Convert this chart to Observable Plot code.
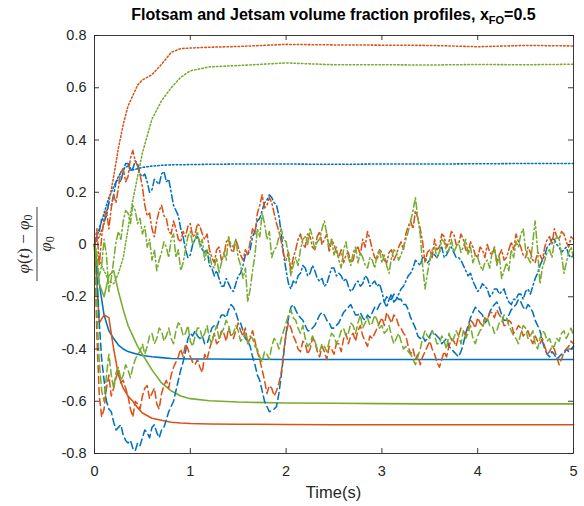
<!DOCTYPE html>
<html>
<head>
<meta charset="utf-8">
<script src="https://cdn.jsdelivr.net/npm/d3@7"></script>
<script src="https://cdn.jsdelivr.net/npm/@observablehq/plot@0.6"></script>
<style>
  html, body { margin: 0; padding: 0; background: #fff; }
  #chart { width: 584px; height: 506px; }
</style>
</head>
<body>
<div id="chart"></div>
<script>
// ---- Text ----
const titleMain = "Flotsam and Jetsam volume fraction profiles, x";
const titleSub = "FO";
const titleTail = "=0.5";
const xLabel = "Time(s)";

// ---- Axis ticks ----
const xTicks = [0, 1, 2, 3, 4, 5];
const yTicks = [-0.8, -0.6, -0.4, -0.2, 0, 0.2, 0.4, 0.6, 0.8];

// ---- Sample times ----
// smooth profiles (solid and dotted) are sampled coarsely
const tSmooth = [0, 0.05, 0.1, 0.15, 0.2, 0.25, 0.3, 0.35, 0.4, 0.45, 0.5, 0.6, 0.7, 0.8, 0.9, 1.0, 1.2, 1.5, 2.0, 2.5, 3.0, 3.5, 4.0, 4.5, 5.0];
// fluctuating profiles (dashed and dash-dot) every 0.025 s
const tNoisy = d3.range(201).map(i => +(i * 0.025).toFixed(3));

// ---- Solid profiles ----
const blueSolid   = [0, -0.15, -0.27, -0.33, -0.36, -0.385, -0.40, -0.41, -0.415, -0.42, -0.425, -0.43, -0.433, -0.436, -0.437, -0.438, -0.438, -0.439, -0.44, -0.44, -0.44, -0.44, -0.44, -0.44, -0.44];
const orangeSolid = [0, -0.30, -0.27, -0.28, -0.40, -0.50, -0.55, -0.58, -0.60, -0.625, -0.645, -0.665, -0.673, -0.68, -0.683, -0.685, -0.687, -0.688, -0.689, -0.69, -0.69, -0.69, -0.69, -0.69, -0.69];
const greenSolid  = [0, -0.15, -0.20, -0.12, -0.10, -0.18, -0.25, -0.31, -0.35, -0.39, -0.42, -0.48, -0.53, -0.56, -0.58, -0.59, -0.598, -0.603, -0.607, -0.608, -0.609, -0.61, -0.61, -0.61, -0.61];

// ---- Dotted profiles ----
const blueDotted   = [0, 0.06, 0.12, 0.18, 0.22, 0.26, 0.29, 0.30, 0.285, 0.29, 0.295, 0.30, 0.303, 0.305, 0.305, 0.306, 0.307, 0.308, 0.308, 0.307, 0.308, 0.308, 0.309, 0.31, 0.31];
const orangeDotted = [0, 0.03, 0.08, 0.16, 0.26, 0.37, 0.46, 0.53, 0.57, 0.61, 0.63, 0.65, 0.69, 0.735, 0.75, 0.752, 0.755, 0.758, 0.766, 0.764, 0.763, 0.762, 0.757, 0.762, 0.76];
const greenDotted  = [0, -0.06, -0.10, -0.14, -0.15, -0.11, -0.05, 0.06, 0.17, 0.26, 0.35, 0.48, 0.55, 0.60, 0.64, 0.665, 0.68, 0.685, 0.695, 0.688, 0.688, 0.687, 0.689, 0.688, 0.69];

// ---- Dashed profiles (lower band), one row per 0.5 s ----
const blueDashed = [
  0, -0.12, -0.30, -0.44, -0.52, -0.60, -0.63, -0.64, -0.68, -0.71, -0.70, -0.69, -0.73, -0.75, -0.76, -0.75, -0.78, -0.79, -0.76, -0.77,
  -0.74, -0.71, -0.72, -0.74, -0.70, -0.69, -0.72, -0.74, -0.71, -0.70, -0.67, -0.64, -0.62, -0.60, -0.56, -0.52, -0.48, -0.45, -0.41, -0.36,
  -0.34, -0.35, -0.33, -0.35, -0.36, -0.35, -0.38, -0.38, -0.35, -0.32, -0.31, -0.32, -0.29, -0.27, -0.27, -0.28, -0.25, -0.23, -0.24, -0.26,
  -0.29, -0.30, -0.33, -0.36, -0.37, -0.39, -0.43, -0.46, -0.50, -0.52, -0.56, -0.60, -0.62, -0.64, -0.635, -0.63, -0.62, -0.57, -0.50, -0.42,
  -0.34, -0.28, -0.24, -0.23, -0.25, -0.27, -0.28, -0.29, -0.31, -0.33, -0.33, -0.32, -0.31, -0.29, -0.27, -0.26, -0.27, -0.29, -0.30, -0.32,
  -0.32, -0.31, -0.30, -0.28, -0.26, -0.25, -0.24, -0.23, -0.25, -0.27, -0.27, -0.26, -0.28, -0.29, -0.27, -0.28, -0.26, -0.24, -0.25, -0.23,
  -0.22, -0.22, -0.20, -0.21, -0.21, -0.19, -0.20, -0.21, -0.21, -0.23, -0.23, -0.25, -0.28, -0.30, -0.32, -0.35, -0.36, -0.35, -0.37, -0.36,
  -0.35, -0.33, -0.34, -0.35, -0.36, -0.38, -0.37, -0.36, -0.39, -0.40, -0.41, -0.42, -0.43, -0.41, -0.38, -0.34, -0.31, -0.28, -0.26, -0.24,
  -0.25, -0.26, -0.27, -0.30, -0.29, -0.26, -0.24, -0.23, -0.22, -0.24, -0.27, -0.29, -0.29, -0.27, -0.25, -0.24, -0.23, -0.21, -0.22, -0.24,
  -0.25, -0.23, -0.24, -0.26, -0.29, -0.31, -0.33, -0.37, -0.40, -0.42, -0.43, -0.41, -0.42, -0.44, -0.43, -0.42, -0.42, -0.40, -0.41, -0.40,
  -0.39
];
const orangeDashed = [
  0, -0.35, -0.58, -0.66, -0.63, -0.55, -0.50, -0.58, -0.55, -0.51, -0.48, -0.53, -0.52, -0.55, -0.58, -0.63, -0.66, -0.60, -0.61, -0.63,
  -0.58, -0.55, -0.54, -0.59, -0.57, -0.55, -0.61, -0.63, -0.57, -0.54, -0.52, -0.55, -0.50, -0.47, -0.45, -0.43, -0.40, -0.43, -0.38, -0.40,
  -0.43, -0.45, -0.46, -0.44, -0.47, -0.49, -0.42, -0.44, -0.40, -0.37, -0.34, -0.38, -0.37, -0.33, -0.34, -0.37, -0.32, -0.35, -0.36, -0.33,
  -0.30, -0.33, -0.35, -0.32, -0.38, -0.36, -0.33, -0.37, -0.41, -0.44, -0.48, -0.52, -0.57, -0.54, -0.55, -0.58, -0.56, -0.53, -0.49, -0.41,
  -0.34, -0.30, -0.32, -0.35, -0.37, -0.40, -0.41, -0.37, -0.38, -0.42, -0.40, -0.36, -0.37, -0.41, -0.43, -0.39, -0.41, -0.44, -0.39, -0.40,
  -0.42, -0.38, -0.38, -0.41, -0.36, -0.34, -0.38, -0.35, -0.34, -0.37, -0.33, -0.31, -0.35, -0.37, -0.39, -0.35, -0.36, -0.34, -0.32, -0.30,
  -0.28, -0.31, -0.26, -0.28, -0.30, -0.27, -0.28, -0.31, -0.32, -0.34, -0.35, -0.39, -0.42, -0.40, -0.44, -0.42, -0.46, -0.43, -0.41, -0.39,
  -0.37, -0.40, -0.42, -0.45, -0.47, -0.44, -0.41, -0.43, -0.39, -0.36, -0.37, -0.39, -0.35, -0.32, -0.33, -0.35, -0.32, -0.29, -0.30, -0.32,
  -0.28, -0.30, -0.31, -0.28, -0.29, -0.26, -0.26, -0.28, -0.25, -0.27, -0.28, -0.31, -0.31, -0.29, -0.30, -0.34, -0.33, -0.31, -0.32, -0.35,
  -0.34, -0.33, -0.36, -0.38, -0.35, -0.37, -0.38, -0.36, -0.39, -0.42, -0.41, -0.39, -0.40, -0.43, -0.46, -0.44, -0.41, -0.40, -0.39, -0.37,
  -0.38
];
const greenDashed = [
  0, -0.25, -0.45, -0.56, -0.60, -0.50, -0.42, -0.50, -0.55, -0.49, -0.47, -0.52, -0.50, -0.46, -0.48, -0.51, -0.47, -0.44, -0.42, -0.41,
  -0.38, -0.42, -0.39, -0.35, -0.34, -0.38, -0.36, -0.32, -0.33, -0.37, -0.35, -0.32, -0.36, -0.38, -0.33, -0.30, -0.31, -0.35, -0.34, -0.31,
  -0.37, -0.39, -0.35, -0.32, -0.32, -0.36, -0.34, -0.31, -0.36, -0.38, -0.34, -0.31, -0.36, -0.34, -0.32, -0.29, -0.31, -0.35, -0.34, -0.31,
  -0.33, -0.37, -0.36, -0.34, -0.38, -0.35, -0.36, -0.39, -0.40, -0.43, -0.45, -0.41, -0.42, -0.44, -0.39, -0.36, -0.37, -0.40, -0.36, -0.33,
  -0.30, -0.27, -0.25, -0.28, -0.29, -0.32, -0.34, -0.31, -0.36, -0.39, -0.38, -0.35, -0.37, -0.40, -0.41, -0.38, -0.39, -0.41, -0.37, -0.34,
  -0.35, -0.38, -0.36, -0.33, -0.32, -0.35, -0.34, -0.30, -0.31, -0.34, -0.30, -0.27, -0.32, -0.30, -0.28, -0.31, -0.30, -0.27, -0.29, -0.32,
  -0.31, -0.34, -0.33, -0.31, -0.35, -0.38, -0.36, -0.34, -0.37, -0.40, -0.39, -0.41, -0.42, -0.44, -0.46, -0.43, -0.40, -0.36, -0.33, -0.35,
  -0.36, -0.33, -0.35, -0.38, -0.38, -0.35, -0.37, -0.40, -0.34, -0.37, -0.36, -0.33, -0.35, -0.38, -0.33, -0.36, -0.34, -0.31, -0.36, -0.38,
  -0.35, -0.33, -0.32, -0.29, -0.28, -0.31, -0.31, -0.34, -0.33, -0.30, -0.30, -0.27, -0.28, -0.31, -0.33, -0.35, -0.36, -0.38, -0.34, -0.31,
  -0.32, -0.36, -0.35, -0.33, -0.38, -0.40, -0.36, -0.33, -0.34, -0.37, -0.36, -0.39, -0.39, -0.36, -0.37, -0.34, -0.33, -0.36, -0.34, -0.32,
  -0.35
];

// ---- Dash-dot profiles (upper band), one row per 0.5 s ----
const blueDashDot = [
  0, 0.04, 0.05, 0.10, 0.09, 0.11, 0.16, 0.15, 0.19, 0.24, 0.25, 0.24, 0.28, 0.31, 0.31, 0.28, 0.29, 0.32, 0.31, 0.27,
  0.26, 0.27, 0.24, 0.20, 0.21, 0.25, 0.24, 0.23, 0.27, 0.28, 0.24, 0.25, 0.20, 0.15, 0.13, 0.11, 0.06, 0.03, -0.02, -0.05,
  -0.04, 0.00, 0.02, 0.03, 0.01, -0.02, -0.03, -0.02, -0.08, -0.09, -0.12, -0.10, -0.13, -0.16, -0.16, -0.13, -0.15, -0.17, -0.18, -0.15,
  -0.12, -0.11, -0.08, -0.04, -0.04, -0.02, 0.03, 0.05, 0.09, 0.10, 0.13, 0.16, 0.17, 0.19, 0.18, 0.16, 0.15, 0.11, 0.04, -0.04,
  -0.10, -0.15, -0.17, -0.14, -0.15, -0.12, -0.11, -0.08, -0.09, -0.12, -0.11, -0.08, -0.10, -0.13, -0.14, -0.13, -0.16, -0.15, -0.12, -0.09,
  -0.09, -0.12, -0.11, -0.12, -0.14, -0.13, -0.16, -0.18, -0.17, -0.15, -0.14, -0.16, -0.15, -0.12, -0.13, -0.16, -0.15, -0.14, -0.16, -0.15,
  -0.18, -0.22, -0.24, -0.21, -0.19, -0.22, -0.21, -0.19, -0.17, -0.16, -0.14, -0.12, -0.11, -0.09, -0.06, -0.07, -0.08, -0.05, -0.05, -0.07,
  -0.06, -0.03, -0.04, -0.05, -0.03, -0.01, -0.05, -0.04, -0.02, -0.01, -0.03, -0.05, -0.05, -0.06, -0.08, -0.10, -0.12, -0.11, -0.14, -0.16,
  -0.18, -0.17, -0.15, -0.16, -0.17, -0.20, -0.19, -0.17, -0.17, -0.19, -0.18, -0.17, -0.20, -0.22, -0.23, -0.21, -0.21, -0.19, -0.19, -0.21,
  -0.18, -0.17, -0.19, -0.16, -0.13, -0.11, -0.08, -0.06, -0.04, -0.01, 0.00, 0.02, 0.02, 0.00, -0.01, -0.03, -0.02, -0.01, -0.04, -0.05,
  -0.04
];
const orangeDashDot = [
  0, 0.06, -0.08, 0.03, 0.10, 0.13, 0.06, 0.14, 0.19, 0.16, 0.22, 0.28, 0.29, 0.24, 0.26, 0.33, 0.36, 0.32, 0.30, 0.27,
  0.22, 0.15, 0.11, 0.12, 0.06, 0.03, 0.09, 0.13, 0.15, 0.11, 0.10, 0.05, 0.04, 0.09, 0.06, 0.02, 0.01, 0.05, 0.03, 0.07,
  0.08, 0.03, 0.04, 0.08, 0.07, 0.04, 0.02, 0.04, -0.02, -0.05, -0.07, -0.02, -0.01, -0.06, -0.05, 0.01, 0.02, -0.02, -0.03, 0.02,
  -0.01, -0.04, -0.06, -0.02, -0.04, 0.01, 0.06, 0.04, 0.12, 0.15, 0.19, 0.14, 0.15, 0.18, 0.16, 0.12, 0.08, 0.05, 0.01, -0.04,
  -0.06, -0.03, -0.10, -0.05, -0.02, 0.02, 0.04, 0.00, -0.01, 0.04, 0.03, -0.01, -0.02, 0.03, 0.05, 0.00, 0.02, 0.04, -0.03, 0.02,
  0.00, -0.03, -0.05, -0.02, -0.07, -0.04, -0.03, -0.07, -0.06, -0.02, -0.01, -0.04, 0.02, -0.01, 0.05, 0.02, -0.02, -0.05, -0.06, -0.02,
  -0.03, -0.06, -0.07, -0.03, -0.02, -0.06, -0.04, -0.01, 0.01, -0.02, 0.04, 0.07, 0.09, 0.06, 0.13, 0.10, 0.06, 0.01, -0.07, -0.03,
  -0.02, -0.05, 0.02, -0.02, -0.01, 0.04, 0.03, -0.01, 0.01, 0.05, 0.04, 0.00, 0.00, 0.04, 0.02, -0.02, -0.03, 0.01, -0.01, -0.04,
  -0.05, -0.01, -0.02, -0.05, 0.00, -0.03, -0.04, -0.01, -0.07, -0.04, -0.02, -0.06, -0.05, -0.02, 0.01, -0.02, 0.04, 0.01, -0.01, -0.04,
  -0.05, -0.01, -0.03, -0.06, -0.07, -0.03, -0.04, -0.06, -0.01, 0.02, 0.03, 0.00, 0.06, 0.03, 0.02, 0.05, 0.04, 0.01, -0.01, 0.03,
  0.02
];
const greenDashDot = [
  0, -0.05, -0.12, -0.08, 0.02, -0.04, -0.18, -0.13, -0.06, 0.01, 0.05, 0.02, 0.09, 0.13, 0.12, 0.08, 0.15, 0.13, 0.08, 0.10,
  0.04, 0.07, -0.01, 0.02, -0.06, -0.02, -0.10, -0.06, -0.03, 0.01, -0.01, -0.05, 0.02, 0.04, -0.05, -0.02, -0.10, -0.07, -0.02, 0.03,
  0.05, 0.00, 0.02, 0.05, -0.01, 0.02, -0.06, -0.02, -0.04, -0.08, -0.09, -0.05, -0.11, -0.07, -0.03, -0.06, 0.03, 0.00, -0.01, 0.02,
  -0.05, -0.08, -0.13, -0.09, -0.22, -0.17, -0.10, -0.04, 0.06, 0.03, 0.12, 0.08, 0.02, 0.05, -0.05, -0.02, -0.01, 0.03, 0.06, 0.02,
  0.01, -0.04, -0.12, -0.08, -0.05, -0.08, -0.02, 0.02, 0.03, 0.00, 0.06, 0.03, -0.02, 0.01, 0.02, 0.06, 0.09, 0.04, -0.01, 0.02,
  -0.04, -0.01, -0.06, -0.09, -0.02, 0.01, -0.05, -0.08, -0.03, -0.01, -0.07, -0.03, -0.05, -0.08, -0.09, -0.05, -0.06, -0.09, -0.04, -0.02,
  -0.07, -0.04, -0.08, -0.11, -0.05, -0.02, -0.03, -0.06, -0.04, -0.01, 0.02, 0.05, 0.09, 0.13, 0.18, 0.10, 0.04, -0.08, -0.17, -0.11,
  -0.06, -0.02, -0.01, -0.05, -0.03, 0.02, 0.01, -0.03, -0.02, 0.02, -0.03, -0.01, 0.01, -0.03, -0.01, 0.02, -0.04, -0.01, -0.07, -0.04,
  -0.05, -0.08, -0.10, -0.07, -0.06, -0.09, -0.03, -0.01, -0.08, -0.04, -0.13, -0.10, -0.07, -0.10, -0.02, -0.05, 0.01, -0.01, 0.04, 0.06,
  -0.02, -0.05, -0.07, 0.01, 0.09, -0.02, -0.15, -0.09, -0.06, -0.03, -0.02, -0.05, 0.01, 0.03, 0.02, -0.04, -0.11, -0.07, -0.03, -0.01,
  -0.05
];

// ---- Styling ----
const W = 584, H = 506;
const mL = 94, mR = 11, mT = 35, mB = 53;
const innerW = W - mL - mR, innerH = H - mT - mB;
const axisColor = "#262626";
const palette = { blue: "#0072BD", orange: "#D95319", green: "#77AC30" };
const dash = { dotted: "1.5,2.2", dashed: "7,4", dashdot: "7,3,1.5,3" };

const series = [
  { t: tSmooth, v: blueSolid, c: palette.blue },
  { t: tSmooth, v: orangeSolid, c: palette.orange },
  { t: tSmooth, v: greenSolid, c: palette.green },
  { t: tSmooth, v: blueDotted, c: palette.blue, d: dash.dotted },
  { t: tSmooth, v: orangeDotted, c: palette.orange, d: dash.dotted },
  { t: tSmooth, v: greenDotted, c: palette.green, d: dash.dotted },
  { t: tNoisy, v: blueDashed, c: palette.blue, d: dash.dashed },
  { t: tNoisy, v: orangeDashed, c: palette.orange, d: dash.dashed },
  { t: tNoisy, v: greenDashed, c: palette.green, d: dash.dashed },
  { t: tNoisy, v: blueDashDot, c: palette.blue, d: dash.dashdot },
  { t: tNoisy, v: orangeDashDot, c: palette.orange, d: dash.dashdot },
  { t: tNoisy, v: greenDashDot, c: palette.green, d: dash.dashdot }
];

const lineMarks = series.map(s => {
  const rows = s.t.map((t, i) => ({ t, v: s.v[i] }));
  const opts = { x: "t", y: "v", stroke: s.c, strokeWidth: 1.55, strokeLinejoin: "round" };
  if (s.d) opts.strokeDasharray = s.d;
  return Plot.line(rows, opts);
});

const fmt = d => String(+d.toFixed(1));

const chart = Plot.plot({
  width: W, height: H,
  marginLeft: mL, marginRight: mR, marginTop: mT, marginBottom: mB,
  style: { fontFamily: "'Liberation Sans', Arial, sans-serif", fontSize: "14.5px", color: axisColor, background: "#fff" },
  x: { domain: [0, 5] },
  y: { domain: [-0.8, 0.8] },
  marks: [
    ...lineMarks,
    Plot.frame({ stroke: axisColor, strokeWidth: 0.9 }),
    // inward tick marks on all four sides
    Plot.tickX(xTicks, { x: d => d, insetTop: innerH - 5, stroke: axisColor, strokeWidth: 0.9 }),
    Plot.tickX(xTicks, { x: d => d, insetBottom: innerH - 5, stroke: axisColor, strokeWidth: 0.9 }),
    Plot.tickY(yTicks, { y: d => d, insetRight: innerW - 5, stroke: axisColor, strokeWidth: 0.9 }),
    Plot.tickY(yTicks, { y: d => d, insetLeft: innerW - 5, stroke: axisColor, strokeWidth: 0.9 }),
    Plot.axisX({ ticks: xTicks, tickSize: 0, tickPadding: 12, tickFormat: d => String(d), label: null }),
    Plot.axisY({ ticks: yTicks, tickSize: 0, tickPadding: 8, tickFormat: fmt, label: null })
  ]
});

document.getElementById("chart").appendChild(chart);

const svg = d3.select(chart);
const cx = mL + innerW / 2;

// title with subscript
const title = svg.append("text")
  .attr("x", cx).attr("y", 20)
  .attr("text-anchor", "middle")
  .attr("font-family", "'Liberation Sans', Arial, sans-serif")
  .attr("font-weight", "bold").attr("font-size", 16).attr("fill", "#000");
title.append("tspan").text(titleMain);
title.append("tspan").attr("font-size", 11).attr("dy", 4).text(titleSub);
title.append("tspan").attr("font-size", 16).attr("dy", -4).text(titleTail);

// x-axis label
svg.append("text")
  .attr("x", cx).attr("y", 498)
  .attr("text-anchor", "middle")
  .attr("font-family", "'Liberation Sans', Arial, sans-serif")
  .attr("font-size", 16.5).attr("fill", axisColor)
  .text(xLabel);

// y-axis label: (phi(t) - phi0) / phi0, rotated
const yl = svg.append("g")
  .attr("transform", `translate(37,${mT + innerH / 2}) rotate(-90)`)
  .attr("font-family", "'Liberation Serif', 'DejaVu Serif', serif")
  .attr("font-size", 17).attr("fill", axisColor);
const num = yl.append("text").attr("x", 0).attr("y", -8).attr("text-anchor", "middle");
num.append("tspan").attr("font-style", "italic").text("φ");
num.append("tspan").text("(");
num.append("tspan").attr("font-style", "italic").text("t");
num.append("tspan").text(") − ");
num.append("tspan").attr("font-style", "italic").text("φ");
num.append("tspan").attr("font-size", 12).attr("dy", 3).text("0");
yl.append("line").attr("x1", -37).attr("x2", 37).attr("y1", 0).attr("y2", 0)
  .attr("stroke", axisColor).attr("stroke-width", 0.9);
const den = yl.append("text").attr("x", 0).attr("y", 14).attr("text-anchor", "middle");
den.append("tspan").attr("font-style", "italic").text("φ");
den.append("tspan").attr("font-size", 12).attr("dy", 3).text("0");
</script>
</body>
</html>
